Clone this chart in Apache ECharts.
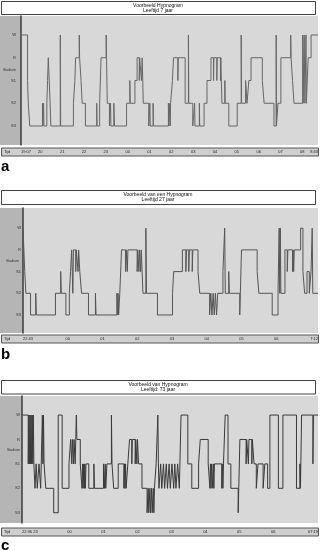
<!DOCTYPE html>
<html>
<head>
<meta charset="utf-8">
<script src="https://cdn.jsdelivr.net/npm/echarts@6/dist/echarts.min.js"></script>
<style>
  html, body { margin: 0; padding: 0; background: #fff; }
  #chart { width: 321px; height: 550px; }
</style>
</head>
<body>
<div id="chart"></div>
<script>
// slaapstadia, index = waarde op de y-as
var stageNames = ['S3', 'S2', 'S1', 'R', 'W']

// [minuten sinds begin registratie, stadium]
var hypnoA = [[0,4],[18,2],[20,1],[24,0],[59,1],[60,0],[62,1],[63,0],[71,1],[73,2],[75,3],[80,1],[82,0],[108,4],[109,0],[144,1],[148,2],[150,3],[160,4],[161,3],[165,2],[168,1],[177,0],[208,1],[209,0],[216,1],[220,3],[234,4],[235,3],[237,1],[243,0],[246,1],[247,0],[255,1],[257,0],[290,1],[299,2],[300,1],[313,2],[319,3],[325,2],[326,3],[331,2],[333,3],[336,1],[351,0],[354,1],[355,0],[363,1],[364,0],[405,1],[406,0],[409,1],[410,0],[411,1],[416,2],[419,3],[431,2],[432,3],[451,1],[460,4],[461,1],[472,0],[477,1],[478,0],[490,1],[491,0],[503,1],[511,2],[522,3],[529,2],[530,3],[538,2],[539,3],[548,2],[549,3],[552,1],[560,2],[561,1],[571,0],[594,1],[605,4],[606,1],[617,2],[621,1],[626,2],[632,3],[663,2],[668,1],[695,0],[701,4],[702,0],[706,1],[714,3],[741,4],[742,3],[746,2],[750,1],[774,4],[775,1],[778,4],[780,1],[783,4],[784,1],[789,3],[797,4],[816,4]]
var ticksA = [0, 53, 113, 173, 233, 293, 353, 413, 473, 533, 593, 653, 713, 773, 816]
var labelsA = ['19:07', '20', '21', '22', '23', '00', '01', '02', '03', '04', '05', '06', '07', '08', '8:43']

var hypnoB = [[0,4],[3,2],[5,1],[13,0],[22,1],[23,0],[56,1],[65,2],[66,1],[74,0],[80,1],[82,2],[84,3],[86,1],[87,3],[91,2],[92,3],[95,2],[96,3],[98,2],[101,1],[113,0],[125,1],[126,0],[162,1],[163,0],[164,1],[165,0],[167,1],[170,3],[177,2],[178,3],[180,2],[181,3],[197,2],[198,3],[200,2],[201,3],[203,2],[204,3],[207,1],[212,4],[213,1],[232,0],[258,1],[260,2],[275,3],[281,2],[282,3],[286,2],[287,3],[292,2],[293,3],[302,2],[305,1],[322,0],[324,1],[326,0],[328,1],[330,0],[332,1],[334,0],[336,1],[345,2],[348,4],[349,1],[355,2],[356,1],[374,0],[375,1],[377,3],[404,2],[407,1],[430,0],[440,1],[442,4],[443,1],[444,4],[445,1],[452,3],[456,2],[457,3],[465,2],[466,3],[467,2],[468,3],[479,4],[483,2],[486,1],[490,2],[494,1],[497,2],[499,4],[500,1],[509,1]]
var ticksB = [0, 77, 137, 197, 257, 317, 377, 437, 509]
var labelsB = ['22:43', '00', '01', '02', '03', '04', '05', '06', '7:12']

var hypnoC = [[0,4],[11,2],[12,4],[13,2],[14,4],[15,2],[16,4],[17,2],[18,4],[19,2],[20,4],[21,2],[23,1],[25,2],[27,1],[30,2],[33,1],[36,4],[37,2],[38,4],[39,2],[42,1],[56,0],[64,4],[71,1],[83,2],[86,3],[88,2],[89,3],[91,2],[92,3],[94,2],[95,3],[96,4],[97,3],[103,2],[106,1],[107,2],[108,1],[109,2],[110,1],[111,2],[112,1],[113,2],[118,1],[127,2],[128,1],[144,2],[146,1],[147,2],[148,1],[150,2],[158,4],[159,2],[162,1],[170,2],[180,1],[181,2],[182,1],[183,2],[184,1],[187,2],[190,3],[194,2],[195,3],[200,2],[201,3],[203,2],[204,3],[206,2],[212,1],[221,0],[223,1],[224,0],[226,1],[227,0],[229,1],[230,0],[232,1],[233,0],[234,1],[237,2],[240,4],[241,2],[242,1],[245,2],[247,1],[250,2],[252,1],[255,2],[257,1],[260,2],[262,1],[265,2],[268,1],[270,2],[272,1],[275,2],[278,1],[281,4],[293,2],[300,1],[312,2],[315,3],[329,2],[332,1],[333,2],[334,1],[335,2],[337,1],[338,2],[339,1],[340,2],[353,1],[354,2],[355,1],[356,2],[359,4],[364,2],[369,1],[382,0],[383,1],[385,3],[396,2],[397,3],[400,2],[401,3],[406,2],[407,3],[410,2],[414,1],[417,2],[426,1],[429,2],[434,1],[438,4],[453,1],[461,4],[485,1],[491,2],[492,1],[494,4],[514,2],[515,4],[523,4]]
var ticksC = [0, 24, 84, 144, 204, 264, 324, 384, 444, 523]
var labelsC = ['22:36', '23', '00', '01', '02', '03', '04', '05', '06', '07:19']

var titles = [
  'Voorbeeld Hypnogram\nLeeftijd 7 jaar',
  'Voorbeeld van een Hypnogram\nLeeftijd 27 jaar',
  'Voorbeeld van Hypnogram\nLeeftijd: 73 jaar'
]

var font = 'Liberation Sans, Arial, sans-serif'

// layout van de drie panelen
var panels = [
  { data: hypnoA, ticks: ticksA, labels: labelsA, grid: { left: 21, top: 16, width: 299, height: 129 }, yMin: -0.835, yMax: 4.835, color: '#666', titleY: 1.5, titleH: 13, barY: 148, letter: 'a', letterY: 166.5, stadiumX: 3, stadiumY: 70, labelMargin: 5, yMargin: 5 },
  { data: hypnoB, ticks: ticksB, labels: labelsB, grid: { left: 23, top: 208, width: 297, height: 125 }, yMin: -0.83, yMax: 4.93, color: '#555', titleY: 190.5, titleH: 14, barY: 335, letter: 'b', letterY: 355, stadiumX: 6, stadiumY: 261, labelMargin: 4, yMargin: 2 },
  { data: hypnoC, ticks: ticksC, labels: labelsC, grid: { left: 22, top: 396, width: 298, height: 127 }, yMin: -0.42, yMax: 4.78, color: '#3a3a3a', titleY: 380.5, titleH: 13.5, barY: 528, letter: 'c', letterY: 546, stadiumX: 7, stadiumY: 450, labelMargin: 7, yMargin: 2 }
]

var myChart = echarts.init(document.getElementById('chart'), null, { renderer: 'canvas' })

var grids = [], xAxes = [], yAxes = [], series = [], graphics = []

panels.forEach(function (p, i) {
  grids.push({
    left: p.grid.left, top: p.grid.top, width: p.grid.width, height: p.grid.height,
    show: true, backgroundColor: '#d8d8d8', borderWidth: 0
  })
  xAxes.push({
    gridIndex: i,
    type: 'value',
    min: 0,
    max: p.ticks[p.ticks.length - 1],
    axisLine: { show: false },
    axisTick: { show: false },
    splitLine: { show: false },
    axisLabel: {
      customValues: p.ticks,
      alignMinLabel: 'left',
      alignMaxLabel: 'right',
      margin: p.labelMargin,
      fontSize: 4,
      fontFamily: font,
      color: '#222',
      formatter: function (v) {
        var k = p.ticks.indexOf(v)
        return k >= 0 ? p.labels[k] : ''
      }
    }
  })
  yAxes.push({
    gridIndex: i,
    type: 'value',
    min: p.yMin,
    max: p.yMax,
    axisLine: { show: true, lineStyle: { color: '#3c3c3c', width: 1.5 } },
    axisTick: { show: false },
    splitLine: { show: false },
    axisLabel: {
      customValues: [0, 1, 2, 3, 4],
      margin: p.yMargin,
      fontSize: 4,
      fontFamily: font,
      color: '#333',
      formatter: function (v) { return stageNames[v] }
    }
  })
  series.push({
    type: 'line',
    xAxisIndex: i,
    yAxisIndex: i,
    step: 'end',
    symbol: 'none',
    lineStyle: { width: 1, color: p.color },
    data: p.data,
    z: 3
  })

  // titelkader
  graphics.push({
    type: 'rect', silent: true, z: 1,
    shape: { x: 1.5, y: p.titleY, width: 314, height: p.titleH },
    style: { fill: '#fff', stroke: '#444', lineWidth: 1 }
  })
  graphics.push({
    type: 'text', silent: true, z: 2,
    x: 158, y: p.titleY + p.titleH / 2,
    style: { text: titles[i], font: '5px ' + font, lineHeight: 5, fill: '#111', align: 'center', verticalAlign: 'middle' }
  })
  // grijze strook links
  graphics.push({
    type: 'rect', silent: true, z: 0,
    shape: { x: 0, y: p.grid.top, width: p.grid.left, height: p.grid.height },
    style: { fill: '#b5b5b5' }
  })
  graphics.push({
    type: 'text', silent: true, z: 2,
    x: p.stadiumX, y: p.stadiumY,
    style: { text: 'Stadium', font: '3.5px ' + font, fill: '#333', align: 'left', verticalAlign: 'middle' }
  })
  // tijdbalk
  graphics.push({
    type: 'rect', silent: true, z: 0,
    shape: { x: 1.5, y: p.barY, width: 317, height: 8 },
    style: { fill: '#cfcfcf', stroke: '#555', lineWidth: 1 }
  })
  graphics.push({
    type: 'text', silent: true, z: 2,
    x: 4, y: p.barY + 4,
    style: { text: 'Tijd', font: '4px ' + font, fill: '#222', align: 'left', verticalAlign: 'middle' }
  })
  graphics.push({
    type: 'text', silent: true, z: 2,
    x: 1, y: p.letterY,
    style: { text: p.letter, font: 'bold 15px ' + font, fill: '#000', align: 'left', verticalAlign: 'middle' }
  })
})

var option = {
  animation: false,
  backgroundColor: '#fff',
  grid: grids,
  xAxis: xAxes,
  yAxis: yAxes,
  series: series,
  graphic: { elements: graphics }
}

myChart.setOption(option, true)
</script>
</body>
</html>
